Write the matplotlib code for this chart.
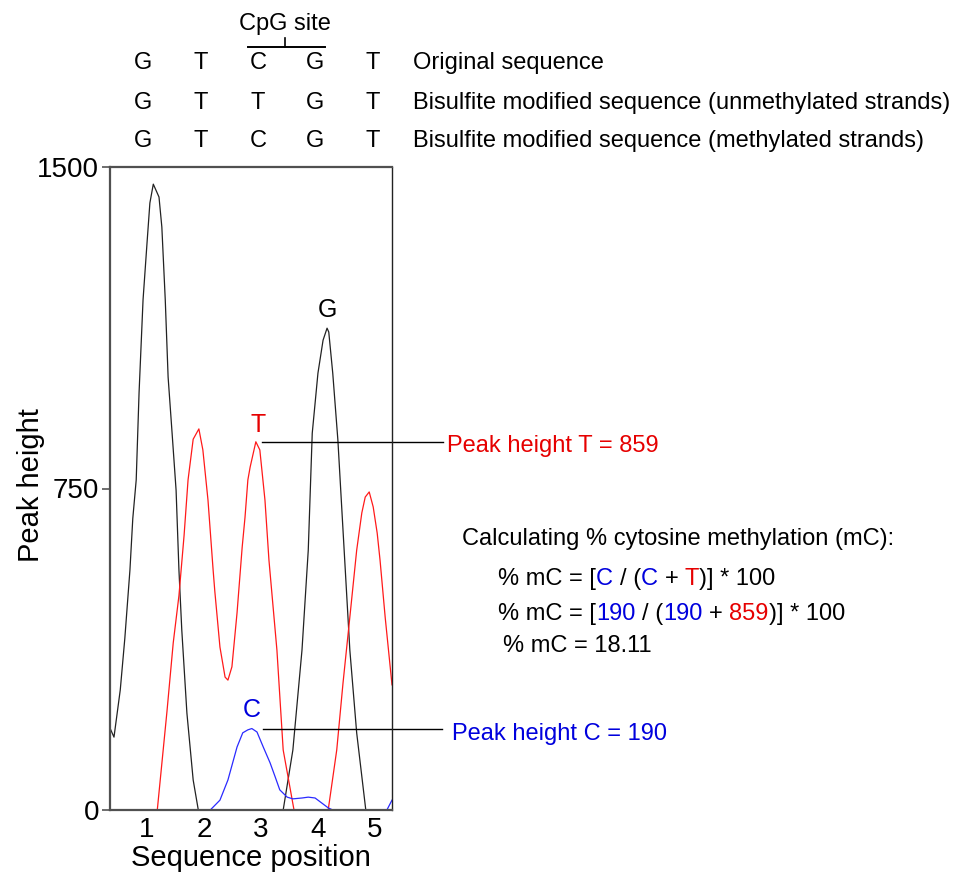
import matplotlib
matplotlib.use("Agg")
from matplotlib import pyplot as plt
from matplotlib.lines import Line2D

plt.rcParams['font.family'] = ['Liberation Sans', 'DejaVu Sans']

W, H = 963, 876

## traces (sequence position, peak height)
black_x = [0.35, 0.42, 0.53, 0.61, 0.70, 0.75, 0.81, 0.86, 0.93, 1.00, 1.05, 1.11, 1.21, 1.26, 1.32, 1.37, 1.44, 1.51, 1.56, 1.61,
           1.70, 1.81, 1.90, 3.39, 3.56, 3.72, 3.83, 3.90, 4.00, 4.09, 4.16, 4.19, 4.26, 4.35, 4.47, 4.56, 4.68, 4.84, 5.30]
black_y = [191, 170, 280, 400, 560, 680, 770, 973, 1190, 1323, 1416, 1460, 1430, 1360, 1190, 1010, 879, 746, 560, 420,
           226, 70, 0, 0, 140, 373, 606, 879, 1019, 1096, 1124, 1115, 1019, 863, 583, 373, 180, 0, 0]

red_x = [0.35, 1.18, 1.35, 1.46, 1.56, 1.65, 1.72, 1.81, 1.91, 1.98, 2.07, 2.16, 2.19, 2.28, 2.37, 2.42, 2.49, 2.58, 2.67, 2.72,
         2.77, 2.81, 2.91, 2.98, 3.07, 3.14, 3.28, 3.39, 3.58, 4.18, 4.33, 4.44, 4.56, 4.68, 4.77, 4.83, 4.90, 4.97, 5.04, 5.09,
         5.18, 5.30]
red_y = [0, 0, 230, 390, 500, 640, 770, 865, 889, 840, 723, 560, 510, 380, 310, 303, 334, 460, 613, 683,
         770, 800, 859, 840, 723, 583, 373, 140, 0, 0, 140, 296, 450, 606, 693, 730, 742, 707, 646, 583,
         450, 292]

blue_x = [0.35, 2.11, 2.28, 2.42, 2.58, 2.68, 2.77, 2.84, 2.93, 3.04, 3.16, 3.25, 3.33, 3.46, 3.56, 3.72, 3.83, 3.95, 4.07, 4.18,
          4.26, 5.21, 5.30]
blue_y = [0, 0, 23, 70, 147, 180, 187, 190, 182, 147, 110, 77, 47, 30, 26, 28, 30, 28, 16, 5,
          0, 0, 23]

positions = [1, 2, 3, 4, 5]
ytick_vals = [0, 750, 1500]

original = ['G', 'T', 'C', 'G', 'T']
unmethylated = ['G', 'T', 'T', 'G', 'T']
methylated = ['G', 'T', 'C', 'G', 'T']
row_names = ['Original sequence',
             'Bisulfite modified sequence (unmethylated strands)',
             'Bisulfite modified sequence (methylated strands)']

T_pos, T_peak = 2.91, 859
C_pos, C_peak = 2.84, 190
G_pos, G_peak = 4.16, 1124
pct_mc = 18.11

RED = '#e60000'
BLUE = '#0000dd'
FS = 17


def fx(px):
    return px / W


def fy(py):
    return 1 - py / H


fig = plt.figure(figsize=(W / 100, H / 100), dpi=100)
ax = fig.add_axes([fx(110), fy(810), (392 - 110) / W, (810 - 167) / H])

ax.plot(black_x, black_y, color='#222222', lw=0.9)
ax.plot(red_x, red_y, color='#ff1a1a', lw=0.9)
ax.plot(blue_x, blue_y, color='#2a2aff', lw=0.9)

ax.set_xlim(0.35, 5.3)
ax.set_ylim(0, 1500)
ax.set_xticks(positions)
ax.set_xticklabels([str(p) for p in positions], fontsize=20)
ax.set_yticks(ytick_vals)
ax.set_yticklabels([str(v) for v in ytick_vals], fontsize=20)
ax.tick_params(axis='x', length=0, pad=5)
ax.tick_params(axis='y', length=6, width=1.2, color='#555555', pad=2)
for s in ax.spines.values():
    s.set_color('#505050')
    s.set_linewidth(1.6)
ax.spines['right'].set_linewidth(1.0)
ax.spines['right'].set_color('#222222')

fig.text(fx(251), fy(866), 'Sequence position', fontsize=21, ha='center', va='baseline')
fig.text(fx(31), fy(485), 'Peak height', fontsize=21, rotation=90, ha='center', va='center')

# peak labels
ax.text(T_pos + 0.04, T_peak + 22, 'T', color=RED, fontsize=FS + 1, ha='center', va='baseline')
ax.text(G_pos, G_peak + 26, 'G', color='black', fontsize=FS + 1, ha='center', va='baseline')
ax.text(C_pos, C_peak + 27, 'C', color=BLUE, fontsize=FS + 1, ha='center', va='baseline')

# leader lines out to the right
inv = ax.transData.inverted()
x_end_T = inv.transform((443, 0))[0]
x_end_C = inv.transform((442, 0))[0]
ax.plot([T_pos + 0.11, x_end_T], [T_peak, T_peak], color='black', lw=1, clip_on=False)
ax.plot([C_pos + 0.19, x_end_C], [C_peak, C_peak], color='black', lw=1, clip_on=False)
fig.text(fx(447), fy(452), 'Peak height T = %d' % T_peak, color=RED, fontsize=FS, va='baseline')
fig.text(fx(452), fy(740), 'Peak height C = %d' % C_peak, color=BLUE, fontsize=FS, va='baseline')

# sequence rows on top
letter_px = [143, 201, 258, 315, 373]
for row, name, base in zip([original, unmethylated, methylated], row_names, [69, 109, 147]):
    for lx, ch in zip(letter_px, row):
        fig.text(fx(lx), fy(base), ch, fontsize=FS, ha='center', va='baseline')
    fig.text(fx(413), fy(base), name, fontsize=FS, ha='left', va='baseline')

fig.text(fx(285), fy(30), 'CpG site', fontsize=FS, ha='center', va='baseline')
fig.add_artist(Line2D([fx(248), fx(325)], [fy(47), fy(47)], color='black', lw=1.4))
fig.add_artist(Line2D([fx(285), fx(285)], [fy(47), fy(38)], color='black', lw=1.2))

renderer = fig.canvas.get_renderer()


def text_w(s):
    t = fig.text(0, 0, s + '|', fontsize=FS)
    w = t.get_window_extent(renderer).width
    t.remove()
    t2 = fig.text(0, 0, '|', fontsize=FS)
    w0 = t2.get_window_extent(renderer).width
    t2.remove()
    return w - w0


def colored_line(x_px, base_px, parts):
    full = ''
    for s, c in parts:
        lead = len(s) - len(s.lstrip())
        off = text_w(full + s[:lead]) if (full + s[:lead]) else 0
        fig.text(fx(x_px + off), fy(base_px), s.strip(), color=c, fontsize=FS, ha='left', va='baseline')
        full += s


fig.text(fx(462), fy(545), 'Calculating % cytosine methylation (mC):', fontsize=FS, va='baseline')
colored_line(498, 585, [('% mC = [', 'black'), ('C', BLUE), (' / (', 'black'), ('C', BLUE),
                        (' + ', 'black'), ('T', RED), (')] * 100', 'black')])
colored_line(498, 620, [('% mC = [', 'black'), (str(C_peak), BLUE), (' / (', 'black'), (str(C_peak), BLUE),
                        (' + ', 'black'), (str(T_peak), RED), (')] * 100', 'black')])
fig.text(fx(503), fy(652), '%% mC = %.2f' % pct_mc, fontsize=FS, va='baseline')

fig.savefig('out.png', dpi=100)
